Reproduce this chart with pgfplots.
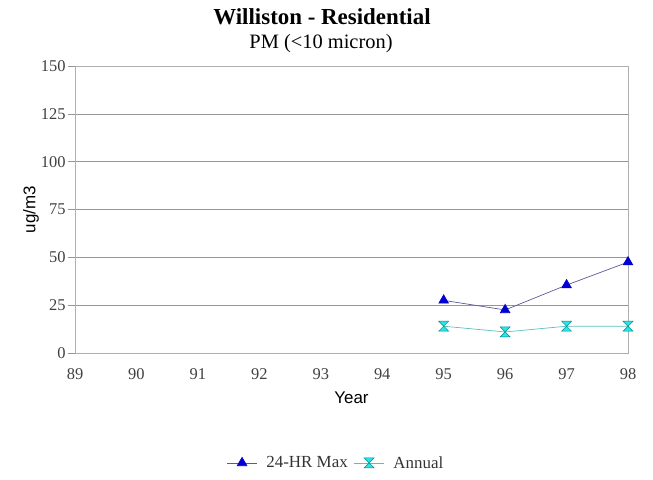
\documentclass[border=0pt]{standalone}
\usepackage{fontspec}
\setmainfont{Liberation Serif}
\newfontfamily\arial{Liberation Sans}
\usepackage{pgfplots}
\pgfplotsset{compat=1.18}
\definecolor{gridc}{RGB}{150,150,150}
\definecolor{boxc}{RGB}{175,175,175}
\definecolor{lineA}{RGB}{90,90,150}
\definecolor{markA}{RGB}{0,0,210}
\definecolor{lineB}{RGB}{90,190,190}
\definecolor{markB}{RGB}{40,230,230}
\definecolor{edgeB}{RGB}{0,140,140}
\pgfdeclareplotmark{hourglass}{%
  \pgfpathmoveto{\pgfqpoint{-\pgfplotmarksize}{\pgfplotmarksize}}%
  \pgfpathlineto{\pgfqpoint{\pgfplotmarksize}{\pgfplotmarksize}}%
  \pgfpathlineto{\pgfqpoint{-\pgfplotmarksize}{-\pgfplotmarksize}}%
  \pgfpathlineto{\pgfqpoint{\pgfplotmarksize}{-\pgfplotmarksize}}%
  \pgfpathclose
  \pgfusepathqfillstroke}
\begin{document}
\begin{tikzpicture}[x=1bp,y=1bp]
\useasboundingbox (0,0) rectangle (653,480);
\node[font=\fontsize{23}{25}\selectfont\bfseries] at (322,463) {Williston - Residential};
\node[font=\fontsize{20.5}{23}\selectfont] at (321,436) {PM (<10 micron)};
\begin{axis}[
  at={(75bp,127bp)}, anchor=south west,
  width=553bp, height=287bp, scale only axis,
  xmin=89, xmax=98, ymin=0, ymax=150,
  xtick={89,90,91,92,93,94,95,96,97,98},
  ytick={0,25,50,75,100,125,150},
  tick pos=left,
  axis line style={boxc, line width=0.8pt},
  ymajorgrids, grid style={gridc, line width=0.6pt},
  y tick style={gridc, line width=0.6pt},
  x tick style={draw=none},
  tick align=outside, major tick length=7bp,
  /pgf/number format/assume math mode=true,
  /pgf/number format/1000 sep={},
  tick label style={font=\fontsize{16.5}{19}\selectfont, text=black!75},
  xticklabel style={yshift=-5bp},
  yticklabel style={xshift=1bp},
  xlabel={\arial Year}, ylabel={\arial ug/m3},
  label style={font=\fontsize{17}{19}\selectfont},
  xlabel style={yshift=-5bp},
  ylabel style={yshift=-5bp},
  legend columns=2,
  legend style={draw=none, fill=none, at={(0.472,-0.383)}, anchor=center,
    font=\fontsize{17}{19}\selectfont, text=black!80,
    /tikz/every odd column/.append style={column sep=7bp},
    /tikz/every even column/.append style={column sep=4bp}},
  legend image code/.code={\draw[#1] (0bp,0bp) -- (30bp,0bp); \draw[#1, only marks] plot coordinates {(15bp,0bp)};},
  clip=false,
]
\addplot[color=lineA, line width=0.7pt, mark=triangle*, mark size=5.5bp,
  mark options={fill=markA, draw=markA, solid}]
  coordinates {(95,27.5) (96,22.5) (97,35.5) (98,47.5)};
\addlegendentry{24-HR Max}
\addplot[color=lineB, line width=0.7pt, mark=hourglass, mark size=5bp,
  mark options={fill=markB, draw=edgeB, line width=0.5pt, solid}]
  coordinates {(95,14) (96,11) (97,14) (98,14)};
\addlegendentry{Annual}
\end{axis}
\end{tikzpicture}
\end{document}
